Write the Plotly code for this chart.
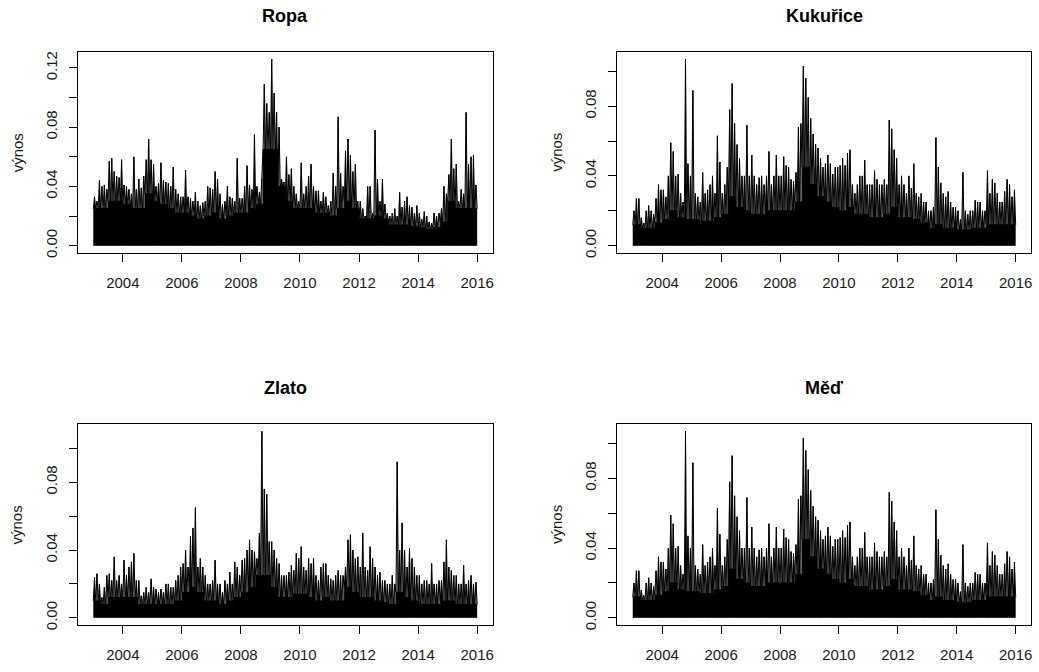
import plotly.graph_objects as go

START_YEAR = 2003

# Monthly peak absolute returns (Jan 2003 .. Dec 2015)
ropa_peaks = [
    0.033, 0.030, 0.044, 0.040, 0.041, 0.038, 0.057, 0.059, 0.050, 0.047, 0.046, 0.058,
    0.041, 0.040, 0.038, 0.035, 0.060, 0.038, 0.045, 0.039, 0.047, 0.058, 0.072, 0.058,
    0.055, 0.040, 0.042, 0.056, 0.044, 0.043, 0.042, 0.040, 0.053, 0.038, 0.035, 0.033,
    0.033, 0.051, 0.033, 0.032, 0.030, 0.036, 0.030, 0.027, 0.029, 0.030, 0.040, 0.039,
    0.038, 0.050, 0.045, 0.035, 0.028, 0.030, 0.040, 0.033, 0.032, 0.030, 0.059, 0.032,
    0.032, 0.040, 0.054, 0.041, 0.038, 0.075, 0.040, 0.036, 0.045, 0.109, 0.096, 0.090,
    0.126, 0.103, 0.090, 0.080, 0.045, 0.043, 0.060, 0.048, 0.052, 0.040, 0.035, 0.030,
    0.056, 0.035, 0.040, 0.047, 0.055, 0.040, 0.037, 0.037, 0.030, 0.036, 0.033, 0.027,
    0.030, 0.049, 0.040, 0.087, 0.049, 0.040, 0.064, 0.072, 0.061, 0.050, 0.055, 0.030,
    0.030, 0.025, 0.020, 0.040, 0.040, 0.022, 0.078, 0.045, 0.030, 0.045, 0.028, 0.022,
    0.020, 0.022, 0.025, 0.020, 0.036, 0.026, 0.030, 0.033, 0.027, 0.026, 0.022, 0.027,
    0.022, 0.018, 0.023, 0.020, 0.016, 0.015, 0.022, 0.020, 0.022, 0.025, 0.040, 0.035,
    0.048, 0.072, 0.052, 0.055, 0.030, 0.038, 0.035, 0.090, 0.055, 0.060, 0.061, 0.041,
]
# Quarterly level of the dense (solid) part of the series
ropa_band = [
    0.025, 0.025, 0.030, 0.030,
    0.028, 0.025, 0.025, 0.035,
    0.030, 0.028, 0.025, 0.022,
    0.022, 0.020, 0.018, 0.020,
    0.022, 0.018, 0.020, 0.022,
    0.022, 0.025, 0.028, 0.065,
    0.065, 0.040, 0.030, 0.025,
    0.025, 0.025, 0.022, 0.022,
    0.020, 0.025, 0.030, 0.025,
    0.018, 0.018, 0.020, 0.018,
    0.014, 0.014, 0.014, 0.013,
    0.012, 0.011, 0.012, 0.016,
    0.030, 0.025, 0.025, 0.025,
]

kukurice_peaks = [
    0.020, 0.027, 0.027, 0.016, 0.013, 0.020, 0.023, 0.020, 0.018, 0.027, 0.035, 0.032,
    0.032, 0.028, 0.040, 0.059, 0.054, 0.040, 0.041, 0.030, 0.025, 0.107, 0.047, 0.040,
    0.089, 0.030, 0.028, 0.025, 0.042, 0.030, 0.032, 0.035, 0.040, 0.030, 0.063, 0.048,
    0.030, 0.035, 0.045, 0.078, 0.093, 0.070, 0.058, 0.050, 0.040, 0.040, 0.069, 0.040,
    0.052, 0.040, 0.035, 0.039, 0.040, 0.035, 0.040, 0.054, 0.035, 0.040, 0.052, 0.040,
    0.040, 0.051, 0.046, 0.045, 0.038, 0.037, 0.042, 0.068, 0.070, 0.103, 0.096, 0.085,
    0.073, 0.064, 0.058, 0.056, 0.050, 0.045, 0.047, 0.052, 0.047, 0.041, 0.045, 0.045,
    0.046, 0.050, 0.046, 0.053, 0.055, 0.035, 0.030, 0.035, 0.040, 0.040, 0.049, 0.035,
    0.035, 0.035, 0.043, 0.038, 0.035, 0.035, 0.038, 0.035, 0.072, 0.067, 0.055, 0.050,
    0.035, 0.040, 0.035, 0.030, 0.040, 0.033, 0.047, 0.030, 0.028, 0.030, 0.025, 0.025,
    0.020, 0.020, 0.022, 0.062, 0.045, 0.036, 0.030, 0.028, 0.031, 0.025, 0.022, 0.022,
    0.020, 0.015, 0.042, 0.020, 0.018, 0.020, 0.020, 0.026, 0.025, 0.025, 0.020, 0.020,
    0.043, 0.030, 0.038, 0.036, 0.030, 0.025, 0.025, 0.031, 0.038, 0.035, 0.028, 0.032,
]
kukurice_band = [
    0.012, 0.010, 0.010, 0.013,
    0.015, 0.020, 0.016, 0.015,
    0.015, 0.014, 0.014, 0.016,
    0.018, 0.028, 0.022, 0.020,
    0.018, 0.018, 0.020, 0.020,
    0.020, 0.020, 0.025, 0.045,
    0.035, 0.028, 0.025, 0.022,
    0.020, 0.022, 0.018, 0.018,
    0.016, 0.016, 0.018, 0.022,
    0.016, 0.016, 0.015, 0.013,
    0.010, 0.012, 0.010, 0.010,
    0.009, 0.009, 0.010, 0.010,
    0.012, 0.012, 0.012, 0.012,
]

zlato_peaks = [
    0.024, 0.026, 0.020, 0.012, 0.018, 0.025, 0.026, 0.022, 0.036, 0.022, 0.025, 0.020,
    0.034, 0.025, 0.030, 0.033, 0.038, 0.022, 0.022, 0.013, 0.015, 0.018, 0.015, 0.023,
    0.018, 0.017, 0.015, 0.017, 0.015, 0.020, 0.020, 0.018, 0.018, 0.022, 0.025, 0.030,
    0.032, 0.040, 0.030, 0.048, 0.053, 0.065, 0.030, 0.035, 0.030, 0.025, 0.020, 0.020,
    0.022, 0.034, 0.020, 0.020, 0.015, 0.022, 0.020, 0.027, 0.020, 0.033, 0.030, 0.025,
    0.034, 0.035, 0.040, 0.046, 0.040, 0.039, 0.035, 0.050, 0.110, 0.076, 0.073, 0.045,
    0.045, 0.040, 0.035, 0.032, 0.025, 0.025, 0.025, 0.027, 0.031, 0.028, 0.038, 0.035,
    0.042, 0.030, 0.028, 0.035, 0.032, 0.035, 0.025, 0.022, 0.030, 0.032, 0.032, 0.025,
    0.023, 0.022, 0.025, 0.028, 0.025, 0.025, 0.030, 0.046, 0.049, 0.040, 0.035, 0.036,
    0.030, 0.050, 0.030, 0.028, 0.042, 0.035, 0.030, 0.025, 0.027, 0.022, 0.022, 0.020,
    0.020, 0.025, 0.020, 0.092, 0.040, 0.056, 0.040, 0.030, 0.041, 0.035, 0.030, 0.025,
    0.025, 0.020, 0.022, 0.022, 0.020, 0.032, 0.020, 0.020, 0.022, 0.022, 0.033, 0.046,
    0.030, 0.028, 0.025, 0.025, 0.020, 0.020, 0.031, 0.020, 0.022, 0.025, 0.020, 0.021,
]
zlato_band = [
    0.010, 0.008, 0.012, 0.012,
    0.012, 0.012, 0.008, 0.008,
    0.008, 0.008, 0.008, 0.010,
    0.015, 0.018, 0.015, 0.010,
    0.010, 0.008, 0.010, 0.012,
    0.015, 0.018, 0.025, 0.025,
    0.018, 0.012, 0.012, 0.014,
    0.014, 0.012, 0.010, 0.012,
    0.010, 0.010, 0.018, 0.015,
    0.012, 0.012, 0.010, 0.009,
    0.008, 0.015, 0.012, 0.010,
    0.008, 0.008, 0.008, 0.010,
    0.010, 0.008, 0.008, 0.008,
]

# Měď panel in the source shows the same series as Kukuřice
med_peaks = list(kukurice_peaks)
med_band = list(kukurice_band)

titles = ["Ropa", "Kukuřice", "Zlato", "Měď"]
y_label = "výnos"
x_tick_years = [2004, 2006, 2008, 2010, 2012, 2014, 2016]

series = [
    (ropa_peaks, ropa_band),
    (kukurice_peaks, kukurice_band),
    (zlato_peaks, zlato_band),
    (med_peaks, med_band),
]

W, H = 1039, 672
# plot boxes in pixels: (left, top, right, bottom)
boxes = [
    (78, 52, 493, 255),
    (618, 52, 1032, 255),
    (78, 427, 493, 630),
    (618, 427, 1032, 630),
]

FONT = "Liberation Sans, Arial, sans-serif"
TXT = "#1a1a1a"

fig = go.Figure()
annotations = []

for i, ((peaks, band), title, box) in enumerate(zip(series, titles, boxes)):
    ax = "" if i == 0 else str(i + 1)
    xref, yref = "x" + ax, "y" + ax

    # dense body of the series (quarterly level, filled to zero)
    bx, by = [], []
    for q, v in enumerate(band):
        bx += [START_YEAR + q / 4, START_YEAR + (q + 1) / 4]
        by += [v, v]
    fig.add_trace(go.Scatter(x=bx, y=by, mode="lines", fill="tozeroy",
                             fillcolor="black", line=dict(color="black", width=1),
                             xaxis=xref, yaxis=yref, hoverinfo="skip", showlegend=False))

    # hairy part: line swinging between the dense level and each month's peak
    zx, zy = [], []
    for m, p in enumerate(peaks):
        lvl = band[m // 3]
        zx += [START_YEAR + m / 12, START_YEAR + (m + 0.5) / 12]
        zy += [lvl, p]
    zx.append(START_YEAR + len(peaks) / 12)
    zy.append(band[-1])
    fig.add_trace(go.Scatter(x=zx, y=zy, mode="lines", line=dict(color="black", width=1),
                             xaxis=xref, yaxis=yref, hoverinfo="skip", showlegend=False))

    # individual spikes at each month's peak
    sx, sy = [], []
    for m, p in enumerate(peaks):
        xm = START_YEAR + (m + 0.5) / 12
        sx += [xm, xm, None]
        sy += [0.0, p, None]
    fig.add_trace(go.Scatter(x=sx, y=sy, mode="lines", line=dict(color="black", width=1),
                             xaxis=xref, yaxis=yref, hoverinfo="skip", showlegend=False,
                             connectgaps=False))

    ymax = max(peaks)
    yr = [-0.04 * ymax, 1.04 * ymax]
    n_end = START_YEAR + len(peaks) / 12
    xr = [START_YEAR - 0.04 * (n_end - START_YEAR), n_end + 0.04 * (n_end - START_YEAR)]

    yt = [k * 0.02 for k in range(int(ymax / 0.02 + 1e-9) + 1)]
    ytt = [("%.2f" % v) if k % 2 == 0 else "" for k, v in enumerate(yt)]

    l, t, r, b = box
    xdom = [l / W, r / W]
    ydom = [1 - b / H, 1 - t / H]

    axis_common = dict(showline=True, linecolor="black", linewidth=1, mirror=True,
                       ticks="outside", ticklen=8, tickcolor="black", tickwidth=1,
                       showgrid=False, zeroline=False,
                       tickfont=dict(family=FONT, size=15, color=TXT))
    fig.update_layout(**{
        "xaxis" + ax: dict(domain=xdom, range=xr, tickvals=x_tick_years,
                           ticktext=[str(v) for v in x_tick_years],
                           anchor=yref, ticklabelstandoff=8, **axis_common),
        "yaxis" + ax: dict(domain=ydom, range=yr, tickvals=yt, ticktext=ytt,
                           tickangle=-90, anchor=xref, ticklabelstandoff=6, **axis_common),
    })

    annotations.append(dict(text="<b>%s</b>" % title, x=(l + r) / 2 / W, y=1 - (t - 36) / H,
                            xref="paper", yref="paper", xanchor="center", yanchor="middle",
                            showarrow=False, font=dict(family=FONT, size=18, color="black")))
    annotations.append(dict(text=y_label, x=(l - 61) / W, y=1 - (t + b) / 2 / H,
                            xref="paper", yref="paper", xanchor="center", yanchor="middle",
                            textangle=-90, showarrow=False,
                            font=dict(family=FONT, size=15, color=TXT)))

fig.update_layout(width=W, height=H, autosize=False,
                  margin=dict(l=0, r=0, t=0, b=0),
                  paper_bgcolor="white", plot_bgcolor="white",
                  annotations=annotations)

fig.write_html("out.html")
